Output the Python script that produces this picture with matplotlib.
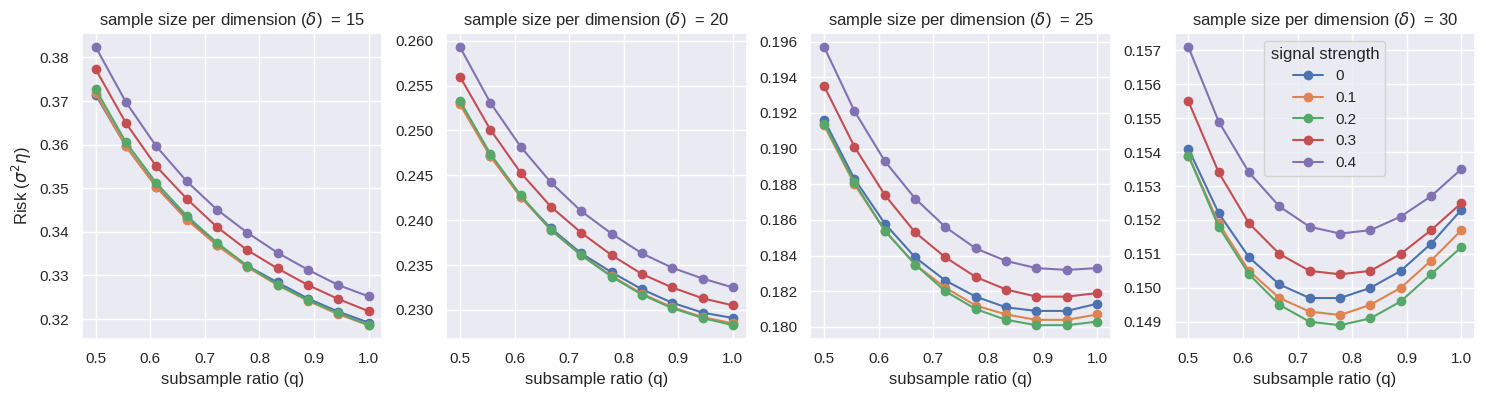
import numpy as np
import matplotlib
matplotlib.use("Agg")
import matplotlib.pyplot as plt
from matplotlib.ticker import MultipleLocator
import seaborn as sns

sns.set_theme(style="darkgrid")
plt.rcParams['font.family'] = ['Liberation Sans', 'DejaVu Sans']

# subsample ratios
q = [0.5, 0.5556, 0.6111, 0.6667, 0.7222, 0.7778, 0.8333, 0.8889, 0.9444, 1.0]
deltas = [15, 20, 25, 30]
signal = ["0", "0.1", "0.2", "0.3", "0.4"]

# risk per delta, one list per signal strength
risk_15 = [
    [0.3714, 0.3596, 0.3504, 0.3432, 0.3371, 0.3322, 0.3284, 0.3247, 0.3217, 0.3192],
    [0.3718, 0.3596, 0.3502, 0.3428, 0.3369, 0.3319, 0.3278, 0.3242, 0.3211, 0.3186],
    [0.3727, 0.3605, 0.3512, 0.3437, 0.3375, 0.3322, 0.3279, 0.3243, 0.3214, 0.3186],
    [0.3773, 0.3649, 0.3550, 0.3476, 0.3411, 0.3358, 0.3316, 0.3278, 0.3246, 0.3218],
    [0.3824, 0.3697, 0.3596, 0.3516, 0.3451, 0.3398, 0.3352, 0.3313, 0.3278, 0.3252],
]
risk_20 = [
    [0.2532, 0.2472, 0.2426, 0.2391, 0.2363, 0.2342, 0.2323, 0.2308, 0.2297, 0.2291],
    [0.2529, 0.2471, 0.2426, 0.2389, 0.2361, 0.2338, 0.2318, 0.2303, 0.2292, 0.2285],
    [0.2533, 0.2474, 0.2428, 0.2389, 0.2361, 0.2337, 0.2317, 0.2302, 0.2291, 0.2283],
    [0.2560, 0.2501, 0.2453, 0.2415, 0.2386, 0.2361, 0.2340, 0.2325, 0.2313, 0.2305],
    [0.2593, 0.2531, 0.2482, 0.2442, 0.2410, 0.2385, 0.2363, 0.2347, 0.2335, 0.2325],
]
risk_25 = [
    [0.1916, 0.1883, 0.1858, 0.1839, 0.1826, 0.1817, 0.1811, 0.1809, 0.1809, 0.1813],
    [0.1913, 0.1880, 0.1854, 0.1835, 0.1822, 0.1812, 0.1807, 0.1804, 0.1804, 0.1807],
    [0.1914, 0.1881, 0.1854, 0.1835, 0.1820, 0.1810, 0.1804, 0.1801, 0.1801, 0.1803],
    [0.1935, 0.1901, 0.1874, 0.1853, 0.1839, 0.1828, 0.1821, 0.1817, 0.1817, 0.1819],
    [0.1957, 0.1921, 0.1893, 0.1872, 0.1856, 0.1844, 0.1837, 0.1833, 0.1832, 0.1833],
]
risk_30 = [
    [0.1541, 0.1522, 0.1509, 0.1501, 0.1497, 0.1497, 0.1500, 0.1505, 0.1513, 0.1523],
    [0.1539, 0.1519, 0.1505, 0.1497, 0.1493, 0.1492, 0.1495, 0.1500, 0.1508, 0.1517],
    [0.1539, 0.1518, 0.1504, 0.1495, 0.1490, 0.1489, 0.1491, 0.1496, 0.1504, 0.1512],
    [0.1555, 0.1534, 0.1519, 0.1510, 0.1505, 0.1504, 0.1505, 0.1510, 0.1517, 0.1525],
    [0.1571, 0.1549, 0.1534, 0.1524, 0.1518, 0.1516, 0.1517, 0.1521, 0.1527, 0.1535],
]
all_risk = [risk_15, risk_20, risk_25, risk_30]
ystep = [0.01, 0.005, 0.002, 0.001]

fig, axs = plt.subplots(1, 4, figsize=(14.86, 3.98), dpi=100)
fig.subplots_adjust(left=0.0552, right=0.9926, top=0.917, bottom=0.148, wspace=0.213)

for ax, d, risk, st in zip(axs, deltas, all_risk, ystep):
    for s, r in zip(signal, risk):
        ax.plot(q, r, marker="o", label=s)
    ax.set_title(r"sample size per dimension ($\delta$)  = %d" % d)
    ax.set_xlabel("subsample ratio (q)")
    ax.yaxis.set_major_locator(MultipleLocator(st))

axs[0].set_ylabel(r"Risk ($\sigma^2\eta$)")
axs[3].legend(title="signal strength", loc="upper center")

fig.savefig("out.png")
